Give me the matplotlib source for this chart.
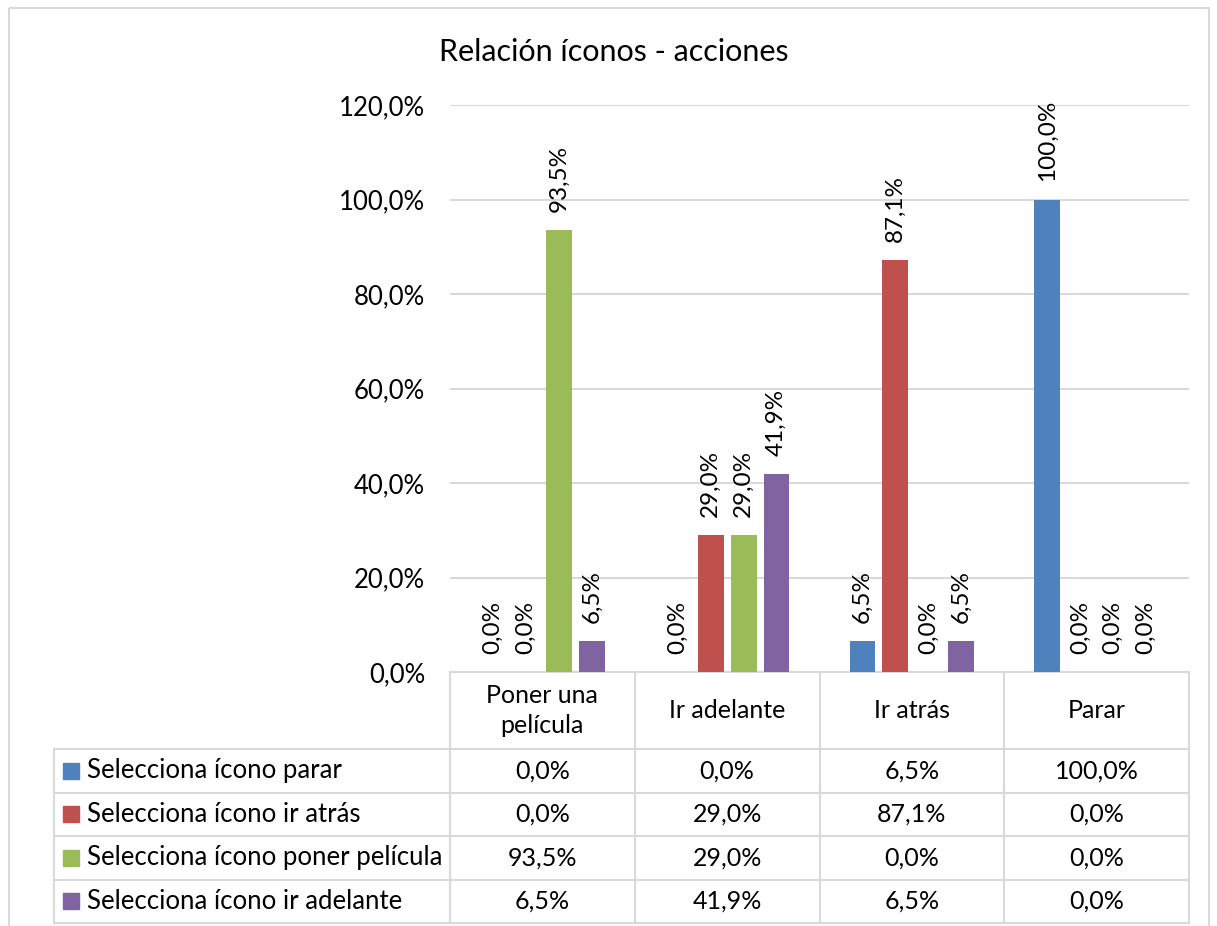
import matplotlib
matplotlib.use('Agg')
import matplotlib.pyplot as plt
from matplotlib.patches import Rectangle

plt.rcParams['font.family'] = ['Lato', 'DejaVu Sans']

# datos
categorias = ['Poner una\npelícula', 'Ir adelante', 'Ir atrás', 'Parar']
series = ['Selecciona ícono parar', 'Selecciona ícono ir atrás',
          'Selecciona ícono poner película', 'Selecciona ícono ir adelante']
parar = [0.0, 0.0, 6.5, 100.0]
ir_atras = [0.0, 29.0, 87.1, 0.0]
poner_pelicula = [93.5, 29.0, 0.0, 0.0]
ir_adelante = [6.5, 41.9, 6.5, 0.0]
valores = [parar, ir_atras, poner_pelicula, ir_adelante]
colores = ['#4F81BD', '#C0504D', '#9BBB59', '#8064A2']
yticks = [0, 20, 40, 60, 80, 100, 120]

def pct(v):
    return f'{v:.1f}%'.replace('.', ',')

W, H = 1217, 926
fig = plt.figure(figsize=(W / 100, H / 100), dpi=100)

# capa en pixeles para borde, titulo y tabla
bg = fig.add_axes([0, 0, 1, 1])
bg.set_xlim(0, W)
bg.set_ylim(H, 0)
bg.axis('off')
bg.add_patch(Rectangle((9, 8), 1200, 930, fill=False, ec='#d9d9d9', lw=1.5))
bg.text(614, 52, 'Relación íconos - acciones', ha='center', va='center', fontsize=22)

# grafico de barras
x0, x1, y0, y1 = 450, 1189, 672, 105
ax = fig.add_axes([x0 / W, 1 - y0 / H, (x1 - x0) / W, (y0 - y1) / H])
n = len(categorias)
ancho = 0.14
paso = 0.178
for i, (serie, vals, c) in enumerate(zip(series, valores, colores)):
    xs = [k + (i - 1.5) * paso for k in range(n)]
    ax.bar(xs, vals, width=ancho, color=c, zorder=3)
    for x, v in zip(xs, vals):
        ax.annotate(pct(v), (x, v), xytext=(0, 13), textcoords='offset points',
                    rotation=90, ha='center', va='bottom', fontsize=17.5)
ax.set_xlim(-0.5, n - 0.5)
ax.set_ylim(0, 120)
ax.set_yticks(yticks)
ax.set_yticklabels([pct(t) for t in yticks], fontsize=18.5)
ax.set_xticks([])
ax.tick_params(axis='y', length=0, pad=18)
ax.grid(axis='y', color='#d9d9d9', lw=1.5, zorder=0)
for s in ax.spines.values():
    s.set_visible(False)

# tabla de datos
col_w = (x1 - x0) / n
header_bottom = 749
row_h = 43.5
tabla_izq = 54
gris = '#d9d9d9'
n_rows = len(series)
tabla_abajo = header_bottom + n_rows * row_h
# lineas horizontales
bg.plot([x0, x1], [y0, y0], color=gris, lw=1.5)
for r in range(n_rows + 1):
    y = header_bottom + r * row_h
    bg.plot([tabla_izq, x1], [y, y], color=gris, lw=1.5)
# lineas verticales
bg.plot([tabla_izq, tabla_izq], [header_bottom, tabla_abajo], color=gris, lw=1.5)
for k in range(n + 1):
    x = x0 + k * col_w
    bg.plot([x, x], [y0, tabla_abajo], color=gris, lw=1.5)
# encabezados
for k, cat in enumerate(categorias):
    bg.text(x0 + (k + 0.5) * col_w, (y0 + header_bottom) / 2, cat,
            ha='center', va='center', fontsize=18, linespacing=1.35)
# filas
for r, (serie, vals, c) in enumerate(zip(series, valores, colores)):
    yc = header_bottom + (r + 0.5) * row_h
    bg.add_patch(Rectangle((63, yc - 8), 16, 16, color=c))
    bg.text(87, yc, serie, ha='left', va='center', fontsize=18.5)
    for k, v in enumerate(vals):
        bg.text(x0 + (k + 0.5) * col_w, yc, pct(v), ha='center', va='center', fontsize=18)

fig.savefig('out.png', dpi=100)
